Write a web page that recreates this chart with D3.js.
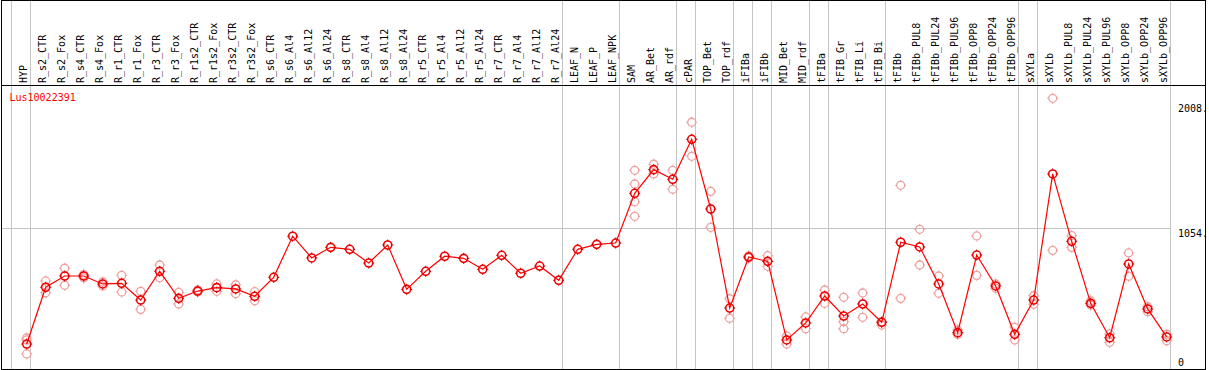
<!DOCTYPE html>
<html>
<head>
<meta charset="utf-8">
<script src="https://cdn.jsdelivr.net/npm/d3@7"></script>
<style>
  body { margin: 0; background: #fff; }
  svg { display: block; }
  text { font-family: "DejaVu Sans Mono", monospace; font-size: 10px; }
</style>
</head>
<body>
<div id="chart"></div>
<script>
const width = 1209;
const height = 370;

const geneName = "Lus10022391";

const labels = [
    "HYP", "R_s2_CTR", "R_s2_Fox", "R_s4_CTR", "R_s4_Fox", "R_r1_CTR", "R_r1_Fox", "R_r3_CTR", "R_r3_Fox",
    "R_r1s2_CTR", "R_r1s2_Fox", "R_r3s2_CTR", "R_r3s2_Fox", "R_s6_CTR", "R_s6_Al4", "R_s6_Al12", "R_s6_Al24",
    "R_s8_CTR", "R_s8_Al4", "R_s8_Al12", "R_s8_Al24", "R_r5_CTR", "R_r5_Al4", "R_r5_Al12", "R_r5_Al24",
    "R_r7_CTR", "R_r7_Al4", "R_r7_Al12", "R_r7_Al24", "LEAF_N", "LEAF_P", "LEAF_NPK", "SAM", "AR_Bet", "AR_rdf",
    "cPAR", "TOP_Bet", "TOP_rdf", "iFIBa", "iFIBb", "MID_Bet", "MID_rdf", "tFIBa", "tFIB_Gr", "tFIB_Li", "tFIB_Bi",
    "tFIBb", "tFIBb_PUL8", "tFIBb_PUL24", "tFIBb_PUL96", "tFIBb_OPP8", "tFIBb_OPP24", "tFIBb_OPP96",
    "sXYLa", "sXYLb", "sXYLb_PUL8", "sXYLb_PUL24", "sXYLb_PUL96", "sXYLb_OPP8", "sXYLb_OPP24", "sXYLb_OPP96"
];

// mean expression per sample
const meanValues = [
    168, 602, 688, 688, 627, 632, 504, 724, 517,
    573, 599, 589, 533, 678, 992, 826, 907,
    892, 787, 925, 586, 724, 839, 823, 739,
    846, 709, 764, 655, 892, 930, 940, 1320, 1501, 1427,
    1733, 1200, 443, 833, 800, 199, 329, 535, 382, 474, 334,
    946, 910, 627, 255, 848, 612, 242,
    504, 1468, 953, 479, 216, 780, 436, 222
];

// individual replicates
const replicates = [
    [214, 199, 92], [650, 560], [747, 617], [699, 673], [642, 612], [693, 566], [571, 433], [772, 675], [563, 474],
    [581, 566], [627, 571], [621, 553], [568, 499], [], [], [], [],
    [], [], [], [], [], [], [], [],
    [], [], [], [], [], [], [], [1496, 1391, 1256, 1144], [1542, 1468], [1496, 1351],
    [1863, 1603], [1335, 1060], [514, 365], [841, 826], [843, 762], [229, 168], [375, 285], [581, 479],
    [525, 339, 285], [558, 372], [339, 313],
    [1381, 517], [1045, 772], [688, 556], [275, 242], [994, 693], [627, 594], [296, 199],
    [537, 472], [2046, 884], [996, 907], [497, 466], [245, 181], [864, 686], [453, 415], [242, 193]
];

// last sample of each group (grey separators)
const groupEnds = ["HYP", "R_r7_Al24", "LEAF_NPK", "AR_rdf", "cPAR", "TOP_rdf", "iFIBa", "iFIBb",
    "MID_rdf", "tFIBa", "tFIB_Bi", "tFIBb_OPP96", "sXYLa", "sXYLb_OPP96"];

const yTicks = [0, 1054, 2008];
const yTickLabels = ["0", "1054.", "2008."];

const plotLeft = 11.7, plotRight = 1170.7, headerY = 85.5;

const x = d3.scaleBand().domain(labels).range([plotLeft, plotRight]).padding(0);
const px = (d) => x(d) + 15;
const y = d3.scaleLinear().domain([0, 2008]).range([366, 103.3]);

const svg = d3.select("#chart").append("svg").attr("width", width).attr("height", height);

// group separators
svg.append("g")
    .selectAll("line")
    .data([labels[0]].concat(groupEnds))
    .join("line")
    .attr("x1", (d, i) => Math.round(i === 0 ? x(d) : x(d) + x.bandwidth()) - 0.5)
    .attr("x2", (d, i) => Math.round(i === 0 ? x(d) : x(d) + x.bandwidth()) - 0.5)
    .attr("y1", 0)
    .attr("y2", 369)
    .attr("stroke", "#c4c4c4")
    .attr("stroke-width", 1);

// horizontal grid at the middle tick
svg.append("line")
    .attr("x1", 1).attr("x2", plotRight)
    .attr("y1", Math.round(y(1054)) + 0.5).attr("y2", Math.round(y(1054)) + 0.5)
    .attr("stroke", "#c4c4c4");

// frame
svg.append("rect")
    .attr("x", 1.5).attr("y", 0.5).attr("width", 1204).attr("height", 369)
    .attr("fill", "none").attr("stroke", "#000");
svg.append("line")
    .attr("x1", 1).attr("x2", 1206).attr("y1", headerY).attr("y2", headerY)
    .attr("stroke", "#000");

// column labels
svg.append("g")
    .selectAll("text")
    .data(labels)
    .join("text")
    .attr("transform", (d) => `translate(${px(d)},83) rotate(-90)`)
    .attr("fill", "#000")
    .text((d) => d);

// y tick labels
svg.append("g")
    .selectAll("text")
    .data(yTicks)
    .join("text")
    .attr("x", 1178)
    .attr("y", (d) => Math.min(y(d) + 8.5, 365.5))
    .attr("fill", "#000")
    .text((d, i) => yTickLabels[i]);

svg.append("text")
    .attr("x", 9.5).attr("y", 101)
    .attr("fill", "#ff0000")
    .text(geneName);

const ticks = "M0,-5.5V-4M0,4V5.5M-5.5,0H-4M4,0H5.5";

// replicate points
const repPoints = [];
labels.forEach((l, i) => replicates[i].forEach((v) => repPoints.push({ label: l, value: v })));

const repG = svg.append("g").selectAll("g").data(repPoints).join("g")
    .attr("transform", (d) => `translate(${px(d.label)},${y(d.value)})`);
repG.append("circle").attr("r", 4).attr("fill", "none").attr("stroke", "#eda0a0").attr("stroke-width", 1.3);
repG.append("path").attr("d", ticks).attr("stroke", "#eda0a0").attr("stroke-width", 1);

// mean line
const line = d3.line().x((d, i) => px(labels[i])).y((d) => y(d));
svg.append("path")
    .datum(meanValues)
    .attr("d", line)
    .attr("fill", "none")
    .attr("stroke", "#ff0000")
    .attr("stroke-width", 1.2);

const meanG = svg.append("g").selectAll("g").data(meanValues).join("g")
    .attr("transform", (d, i) => `translate(${px(labels[i])},${y(d)})`);
meanG.append("circle").attr("r", 4).attr("fill", "none").attr("stroke", "#f00000").attr("stroke-width", 1.6);
meanG.append("path").attr("d", ticks).attr("stroke", "#c00000").attr("stroke-width", 1);
</script>
</body>
</html>
